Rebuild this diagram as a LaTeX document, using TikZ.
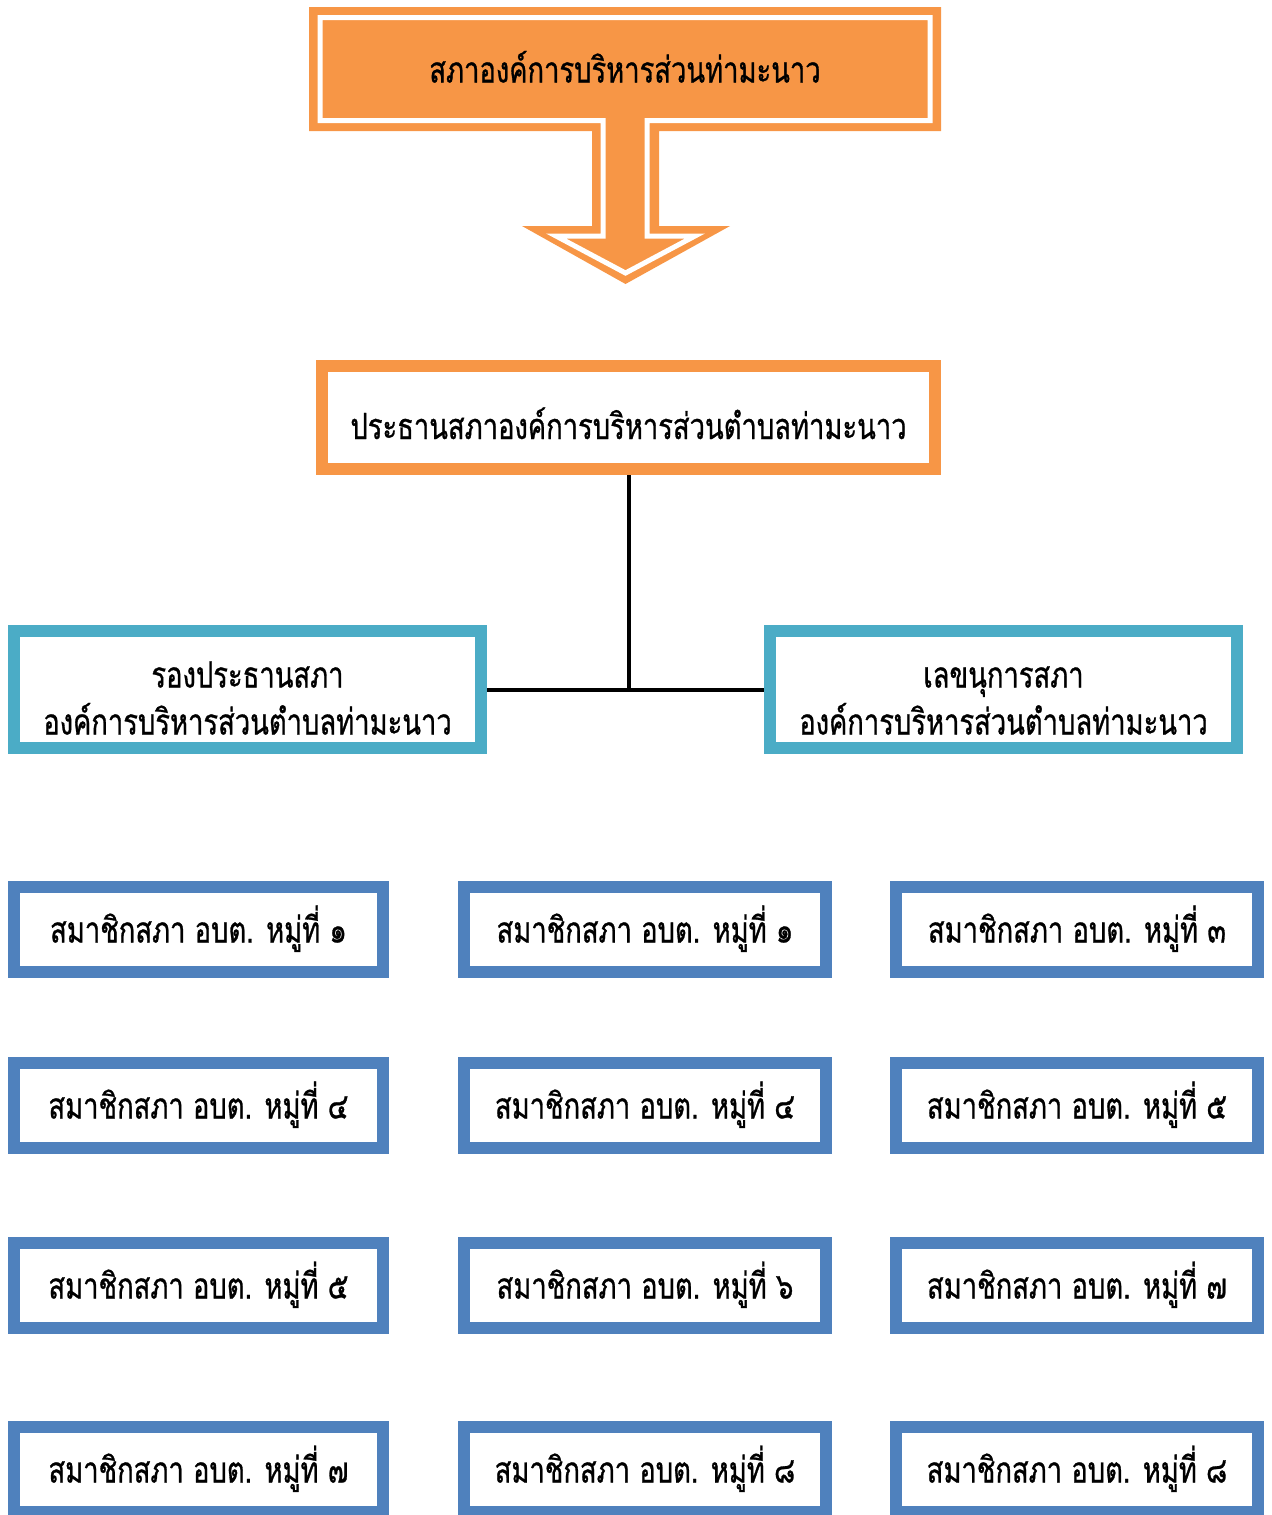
\documentclass[tikz,border=0pt]{standalone}
\usepackage{fontspec}
\newfontfamily\thaifont[Script=Thai, FakeStretch=0.76, FakeBold=0.8]{Loma}
\definecolor{orangeline}{HTML}{F79646}
\definecolor{tealline}{HTML}{4BACC6}
\definecolor{blueline}{HTML}{4F81BD}

\begin{document}
\begin{tikzpicture}[x=0.5pt, y=-0.5pt,
    thaitext/.style={font=\thaifont\fontsize{18}{23.5}\selectfont},
    chairbox/.style={thaitext, draw=orangeline, line width=6pt, fill=white,
        inner sep=0pt, text height=21.5pt, text depth=0pt,
        minimum width=306.5pt, minimum height=51.5pt},
    officebox/.style={thaitext, draw=tealline, line width=6pt, fill=white,
        inner sep=0pt, align=center, text depth=0pt,
        minimum width=233.5pt, minimum height=58.5pt},
    memberbox/.style={thaitext, draw=blueline, line width=6pt, fill=white,
        inner sep=0pt, text height=13pt, text depth=0pt, minimum height=42.5pt},
    link/.style={line width=2pt, black}]
    \useasboundingbox (0,0) rectangle (1271,1515);
    \clip (0,0) rectangle (1271,1515);
    % banner with arrow
    \fill[orangeline] (309,7) -- (941,7) -- (941,131) -- (659,131) --
    (659,226) -- (730,226) -- (625.5,284) -- (522,226) -- (592,226) --
    (592,131) -- (309,131) -- cycle;
    \draw[white, line width=2.5pt] (320,17.5) -- (930,17.5) -- (930,120.5) --
    (647,120.5) -- (647,236) -- (695,236) -- (625.5,273) -- (556,236) --
    (603,236) -- (603,120.5) -- (320,120.5) -- cycle;
    \node[thaitext, anchor=base] (council) at (625,82.5) {สภาองค์การบริหารส่วนท่ามะนาว};
    \node[chairbox] (chair) at (628.5,417.5) {ประธานสภาองค์การบริหารส่วนตำบลท่ามะนาว};
    \node[officebox] (vice) at (247.5,689.5) {\rule{0pt}{21.5pt}รองประธานสภา\\องค์การบริหารส่วนตำบลท่ามะนาว};
    \node[officebox] (secretary) at (1003.5,689.5) {\rule{0pt}{21.5pt}เลขนุการสภา\\องค์การบริหารส่วนตำบลท่ามะนาว};
    \coordinate (split) at (chair.south |- vice.east);
    \draw[link] (chair.south) -- (split);
    \draw[link] (vice.east) -- (secretary.west);
    % members
    \foreach \name/\x/\y/\w/\num in {m1/198.5/929.5/184.5/๑, m2/645/929.5/181/๑,
        m3/1077/929.5/181/๓, m4/198.5/1105.5/184.5/๔, m5/645/1105.5/181/๔,
        m6/1077/1105.5/181/๕, m7/198.5/1285.5/184.5/๕, m8/645/1285.5/181/๖,
        m9/1077/1285.5/181/๗, m10/198.5/1469.5/184.5/๗, m11/645/1469.5/181/๘,
        m12/1077/1469.5/181/๘}{
            \node[memberbox, minimum width=\w pt] (\name) at (\x,\y) {สมาชิกสภา อบต. หมู่ที่ \num};
        }
\end{tikzpicture}
\end{document}
